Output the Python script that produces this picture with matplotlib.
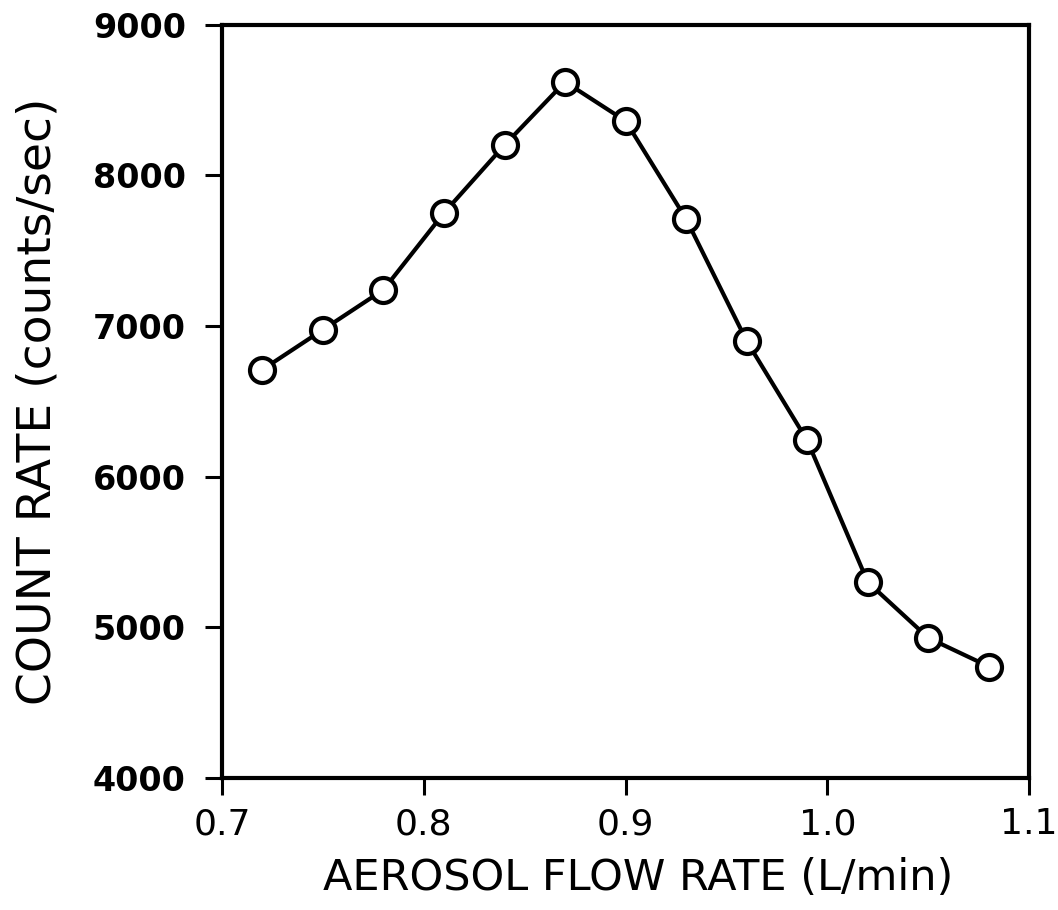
"""
count rate vs aerosol flow rate
"""

from matplotlib import pyplot as plt

# 数据
flow_rate = [0.72, 0.75, 0.78, 0.81, 0.84, 0.87, 0.90, 0.93, 0.96, 0.99, 1.02, 1.05, 1.08]
count_rate = [6710, 6975, 7240, 7750, 8200, 8620, 8360, 7710, 6900, 6240, 5300, 4930, 4740]

x_ticks = [0.7, 0.8, 0.9, 1.0, 1.1]
x_tick_labels = ['0.7', '0.8', '0.9', '1.0', '1.1']
y_ticks = [4000, 5000, 6000, 7000, 8000, 9000]

font = 'DejaVu Sans'


def plot():
    fig = plt.figure(figsize=(10.58, 9.10), dpi=100)
    ax = fig.add_axes([0.2098, 0.145, 0.763, 0.828])

    ax.plot(flow_rate, count_rate, color='black', linewidth=3.0,
            marker='o', markersize=18, markerfacecolor='white',
            markeredgecolor='black', markeredgewidth=3.0)

    ax.set_xlim(0.7, 1.1)
    ax.set_ylim(4000, 9000)
    ax.set_xticks(x_ticks)
    ax.set_xticklabels(x_tick_labels)
    ax.set_yticks(y_ticks)

    for lab in ax.get_yticklabels():
        lab.set_fontfamily(font)
        lab.set_fontweight('bold')
        lab.set_fontsize(24)
    for lab in ax.get_xticklabels():
        lab.set_fontfamily(font)
        lab.set_fontsize(26)

    ax.tick_params(axis='y', direction='out', length=12, width=2.2, pad=14)
    ax.tick_params(axis='x', direction='out', length=12, width=2.2, pad=9)

    for sp in ax.spines.values():
        sp.set_linewidth(3.0)

    ax.set_xlabel('AEROSOL FLOW RATE (L/min)', fontsize=31, family=font, va='center')
    ax.xaxis.set_label_coords(0.515, -0.133)
    ax.set_ylabel('COUNT RATE (counts/sec)', fontsize=34, family=font, va='center')
    ax.yaxis.set_label_coords(-0.228, 0.5)

    plt.savefig('out.png', dpi=100)


plot()
